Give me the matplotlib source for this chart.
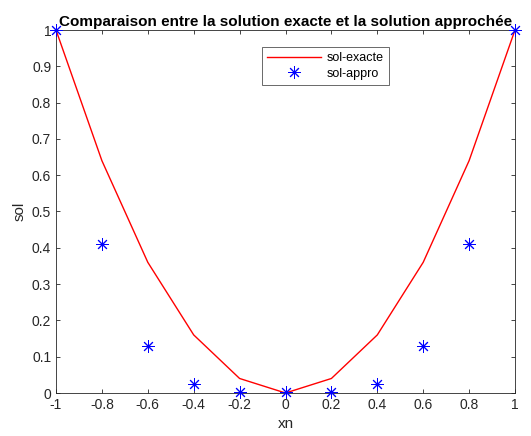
import numpy as np
import matplotlib.pyplot as plt

plt.rcParams['font.family'] = ['Liberation Sans', 'DejaVu Sans']

xn = [-1, -0.8, -0.6, -0.4, -0.2, 0, 0.2, 0.4, 0.6, 0.8, 1]
sol_exacte = [1, 0.64, 0.36, 0.16, 0.04, 0, 0.04, 0.16, 0.36, 0.64, 1]
sol_appro = [1, 0.41, 0.13, 0.026, 0.003, 0.002, 0.002, 0.026, 0.13, 0.41, 1]

fig = plt.figure(figsize=(5.31, 4.36), dpi=100)
ax = fig.add_axes([56 / 531, 1 - 393 / 436, (515 - 56) / 531, (393 - 30) / 436])
ax.plot(xn, sol_exacte, color="red", lw=1, label="sol-exacte")
ax.plot(xn, sol_appro, ls="none", marker=(8, 2, 0), color="blue", ms=9,
        markeredgewidth=0.7, label="sol-appro", clip_on=False, zorder=5)
ax.set_xlim(-1, 1)
ax.set_ylim(0, 1)
ax.set_xticks(np.round(np.arange(-1, 1.01, 0.2), 1))
ax.set_xticklabels(["-1", "-0.8", "-0.6", "-0.4", "-0.2", "0", "0.2", "0.4", "0.6", "0.8", "1"])
ax.set_yticks(np.round(np.arange(0, 1.01, 0.1), 1))
ax.set_yticklabels(["0", "0.1", "0.2", "0.3", "0.4", "0.5", "0.6", "0.7", "0.8", "0.9", "1"])
ax.tick_params(direction="in", top=True, right=True, labelsize=10, colors="#262626",
               length=3, width=0.6)
for s in ax.spines.values():
    s.set_color("#262626")
    s.set_linewidth(0.6)
ax.set_xlabel("xn", fontsize=11, color="#262626")
ax.set_ylabel("sol", fontsize=11, color="#262626")
ax.set_title("Comparaison entre la solution exacte et la solution approchée",
             fontsize=11, fontweight="bold", pad=3)
leg = ax.legend(loc="upper left", bbox_to_anchor=(262 / 531, 1 - 47 / 436),
                bbox_transform=fig.transFigure, fancybox=False, edgecolor="#262626",
                fontsize=9, handlelength=4.3, handletextpad=0.5, borderpad=0.4,
                labelspacing=0.3, borderaxespad=0)
leg.get_frame().set_linewidth(0.6)
fig.savefig("out.png", dpi=100)
